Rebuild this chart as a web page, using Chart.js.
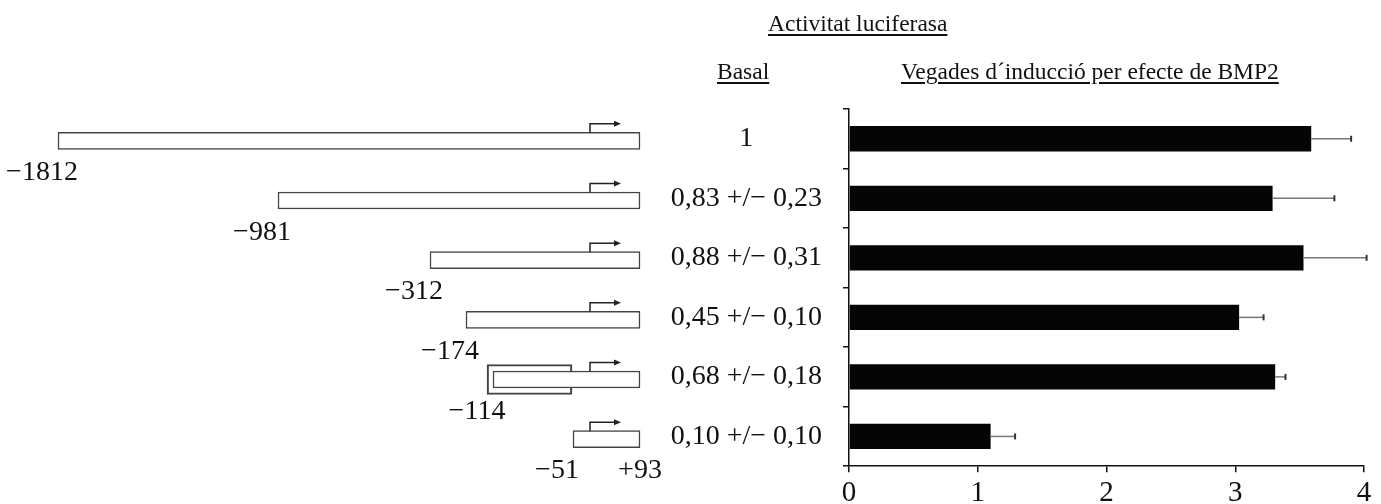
<!DOCTYPE html>
<html>
<head>
<meta charset="utf-8">
<script src="https://cdn.jsdelivr.net/npm/chart.js@4.4.1/dist/chart.umd.min.js"></script>
<style>
    body { margin: 0; background: #fff; }
    #wrap { position: relative; width: 1381px; height: 504px; overflow: hidden; }
    canvas { position: absolute; top: 0; }
    .head {
        position: absolute;
        font-family: "Liberation Serif", "Times New Roman", serif;
        font-size: 23.5px;
        line-height: 23.5px;
        color: #111;
        white-space: nowrap;
        text-decoration: underline;
        text-decoration-thickness: 1.5px;
        text-underline-offset: 3px;
    }
</style>
</head>
<body>
<div id="wrap">
    <canvas id="constructChart" width="680" height="504" style="left:0"></canvas>
    <canvas id="inductionChart" width="741" height="504" style="left:640px"></canvas>
    <div class="head" style="left:768px; top:12px">Activitat luciferasa</div>
    <div class="head" style="left:717px; top:60px">Basal</div>
    <div class="head" style="left:901px; top:60px">Vegades d´inducció per efecte de BMP2</div>
</div>
<script>
// promoter constructs (schematic units, transcription start = 0)
const constructLabels = ["−1812", "−981", "−312", "−174", "−114", "−51"];
const constructStart = [-532, -312, -160, -124, -97, -17];
const constructEnd = [50, 50, 50, 50, 50, 50];
const endLabel = "+93";
// extra box drawn over the -114 construct
const boxStart = [null, null, null, null, -103, null];
const boxEnd = [null, null, null, null, -18, null];

// luciferase activity
const basalLabels = [
    "1",
    "0,83 +/− 0,23",
    "0,88 +/− 0,31",
    "0,45 +/− 0,10",
    "0,68 +/− 0,18",
    "0,10 +/− 0,10",
];
const bmp2Fold = [3.59, 3.29, 3.53, 3.03, 3.31, 1.1];
const bmp2Err = [0.31, 0.48, 0.49, 0.19, 0.08, 0.19];

const serif = "'Liberation Serif', 'Times New Roman', serif";

// arrows and position labels on the construct diagrams
const constructDecor = {
    id: "constructDecor",
    afterDatasetsDraw(chart) {
        const { ctx, scales } = chart;
        const x = scales.x;
        const y = scales.y;
        ctx.save();
        ctx.strokeStyle = "#222";
        ctx.fillStyle = "#222";
        ctx.lineWidth = 1.5;
        constructLabels.forEach((label, i) => {
            const yc = y.getPixelForValue(i);
            const top = yc - 8;
            const tss = x.getPixelForValue(0);
            // transcription start arrow
            ctx.beginPath();
            ctx.moveTo(tss, top);
            ctx.lineTo(tss, top - 9);
            ctx.lineTo(tss + 26, top - 9);
            ctx.stroke();
            ctx.beginPath();
            ctx.moveTo(tss + 31, top - 9);
            ctx.lineTo(tss + 24, top - 12);
            ctx.lineTo(tss + 24, top - 6);
            ctx.closePath();
            ctx.fill();
        });
        ctx.fillStyle = "#111";
        ctx.font = "28px " + serif;
        ctx.textAlign = "center";
        ctx.textBaseline = "alphabetic";
        constructLabels.forEach((label, i) => {
            const yc = y.getPixelForValue(i);
            ctx.fillText(label, x.getPixelForValue(constructStart[i]) - 16, yc + 39);
        });
        const last = constructLabels.length - 1;
        ctx.fillText(endLabel, x.getPixelForValue(constructEnd[last]), y.getPixelForValue(last) + 39);
        ctx.restore();
    },
};

new Chart(document.getElementById("constructChart"), {
    type: "bar",
    data: {
        labels: constructLabels,
        datasets: [
            {
                data: constructStart.map((s, i) => [s, constructEnd[i]]),
                backgroundColor: "#fff",
                borderColor: "#444",
                borderWidth: 1.5,
                borderSkipped: false,
                barThickness: 17,
                grouped: false,
            },
            {
                data: boxStart.map((s, i) => (s === null ? null : [s, boxEnd[i]])),
                backgroundColor: "rgba(0,0,0,0)",
                borderColor: "#444",
                borderWidth: 1.5,
                borderSkipped: false,
                barThickness: 30,
                grouped: false,
            },
        ],
    },
    options: {
        indexAxis: "y",
        responsive: false,
        animation: false,
        layout: { padding: { top: 111, bottom: 35, left: 0, right: 0 } },
        scales: {
            x: { type: "linear", min: -590, max: 90, display: false },
            y: { display: false },
        },
        plugins: { legend: { display: false }, tooltip: { enabled: false } },
    },
    plugins: [constructDecor],
});

// one-sided error bars
const errorBars = {
    id: "errorBars",
    afterDatasetsDraw(chart) {
        const { ctx, scales } = chart;
        ctx.save();
        bmp2Fold.forEach((v, i) => {
            const yc = scales.y.getPixelForValue(i);
            const x0 = scales.x.getPixelForValue(v);
            const x1 = scales.x.getPixelForValue(v + bmp2Err[i]);
            ctx.strokeStyle = "#777";
            ctx.lineWidth = 1.5;
            ctx.beginPath();
            ctx.moveTo(x0, yc);
            ctx.lineTo(x1, yc);
            ctx.stroke();
            ctx.strokeStyle = "#333";
            ctx.lineWidth = 2;
            ctx.beginPath();
            ctx.moveTo(x1, yc - 3);
            ctx.lineTo(x1, yc + 3);
            ctx.stroke();
        });
        ctx.restore();
    },
};

new Chart(document.getElementById("inductionChart"), {
    type: "bar",
    data: {
        labels: basalLabels,
        datasets: [
            {
                data: bmp2Fold,
                backgroundColor: "#050505",
                borderWidth: 0,
                barPercentage: 0.425,
                categoryPercentage: 1,
            },
        ],
    },
    options: {
        indexAxis: "y",
        responsive: false,
        animation: false,
        layout: { padding: { top: 109, bottom: 0, left: 29, right: 17 } },
        scales: {
            x: {
                min: 0,
                max: 4,
                ticks: {
                    stepSize: 1,
                    color: "#111",
                    padding: 4,
                    font: { family: serif, size: 29 },
                },
                grid: {
                    drawOnChartArea: false,
                    drawTicks: true,
                    tickLength: 6,
                    color: "#111",
                    lineWidth: 1.5,
                },
                border: { color: "#111", width: 1.5 },
                afterFit(scale) {
                    scale.height = 36;
                },
            },
            y: {
                ticks: {
                    color: "#111",
                    padding: 21,
                    crossAlign: "center",
                    font: { family: serif, size: 28 },
                },
                grid: {
                    drawOnChartArea: false,
                    drawTicks: true,
                    tickLength: 6,
                    color: "#111",
                    lineWidth: 1.5,
                },
                border: { color: "#111", width: 1.5 },
                afterFit(scale) {
                    scale.width = 180;
                },
            },
        },
        plugins: { legend: { display: false }, tooltip: { enabled: false } },
    },
    plugins: [errorBars],
});
</script>
</body>
</html>
